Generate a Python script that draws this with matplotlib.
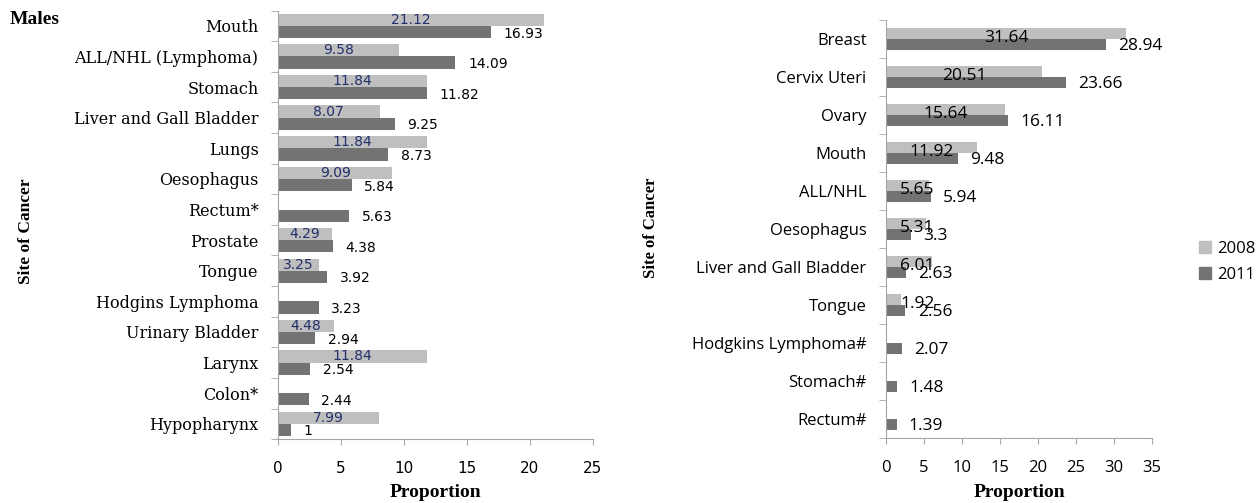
import numpy as np
import matplotlib
matplotlib.use("Agg")
import matplotlib.pyplot as plt
from matplotlib.patches import Patch

# males
m_sites = ["Mouth", "ALL/NHL (Lymphoma)", "Stomach", "Liver and Gall Bladder", "Lungs",
           "Oesophagus", "Rectum*", "Prostate", "Tongue", "Hodgins Lymphoma",
           "Urinary Bladder", "Larynx", "Colon*", "Hypopharynx"]
m_2008 = [21.12, 9.58, 11.84, 8.07, 11.84, 9.09, np.nan, 4.29, 3.25, np.nan, 4.48, 11.84, np.nan, 7.99]
m_2011 = [16.93, 14.09, 11.82, 9.25, 8.73, 5.84, 5.63, 4.38, 3.92, 3.23, 2.94, 2.54, 2.44, 1]

# females
f_sites = ["Breast", "Cervix Uteri", "Ovary", "Mouth", "ALL/NHL", "Oesophagus",
           "Liver and Gall Bladder", "Tongue", "Hodgkins Lymphoma#", "Stomach#", "Rectum#"]
f_2008 = [31.64, 20.51, 15.64, 11.92, 5.65, 5.31, 6.01, 1.92, np.nan, np.nan, np.nan]
f_2011 = [28.94, 23.66, 16.11, 9.48, 5.94, 3.3, 2.63, 2.56, 2.07, 1.48, 1.39]

light = "#BFBFBF"
dark = "#737373"
navy = "#23306B"
spine_c = "#A6A6A6"

fig = plt.figure(figsize=(12.6, 5.03), dpi=100)


def style_axes(ax, n):
    for s in ["top", "right"]:
        ax.spines[s].set_visible(False)
    ax.spines["left"].set_color(spine_c)
    ax.spines["bottom"].set_color(spine_c)
    ax.set_ylim(n - 0.5, -0.5)
    ax.set_yticks(np.arange(n))
    ax.tick_params(axis="y", length=0, pad=14)
    ax.set_yticks(np.arange(n + 1) - 0.5, minor=True)
    ax.tick_params(axis="y", which="minor", length=5, color=spine_c)
    ax.tick_params(axis="x", length=4, color=spine_c, pad=12)


# ---- males ----
ax1 = fig.add_axes([0.2206, 0.127, 0.25, 0.852])
y = np.arange(len(m_sites))
h = 0.4
ax1.barh(y - h / 2, m_2008, height=h, color=light)
ax1.barh(y + h / 2, m_2011, height=h, color=dark)
style_axes(ax1, len(m_sites))
ax1.set_xlim(0, 25)
ax1.set_xticks(np.arange(0, 26, 5))
ax1.set_yticklabels(m_sites, family="DejaVu Serif", fontsize=11.5)
for lab in ax1.get_xticklabels():
    lab.set_family("DejaVu Sans")
    lab.set_fontsize(11)
for i, (a, b) in enumerate(zip(m_2008, m_2011)):
    if not np.isnan(a):
        ax1.text(a / 2, i - h / 2, f"{a:g}", ha="center", va="center",
                 color=navy, fontsize=10, family="DejaVu Sans")
    ax1.text(b + 1.0, i + h / 2 + 0.05, f"{b:g}", ha="left", va="center",
             color="black", fontsize=10, family="DejaVu Sans")
ax1.set_xlabel("Proportion", family="Liberation Serif", fontweight="bold", fontsize=14)
ax1.xaxis.set_label_coords(0.5, -0.105)
fig.text(26 / 1260, 1 - 231 / 503, "Site of Cancer", rotation=90, ha="center", va="center",
         family="Liberation Serif", fontweight="bold", fontsize=12.5)
fig.text(10 / 1260, 1 - 20 / 503, "Males", ha="left", va="center",
         family="Liberation Serif", fontweight="bold", fontsize=14)

# ---- females ----
ax2 = fig.add_axes([0.7032, 0.129, 0.2111, 0.831])
y = np.arange(len(f_sites))
h = 0.28
ax2.barh(y - h / 2, f_2008, height=h, color=light, label="2008")
ax2.barh(y + h / 2, f_2011, height=h, color=dark, label="2011")
style_axes(ax2, len(f_sites))
ax2.set_xlim(0, 35)
ax2.set_xticks(np.arange(0, 36, 5))
ax2.set_yticklabels(f_sites, family="Open Sans", fontsize=12)
for lab in ax2.get_xticklabels():
    lab.set_family("Open Sans")
    lab.set_fontsize(12)
for i, (a, b) in enumerate(zip(f_2008, f_2011)):
    if not np.isnan(a):
        ax2.text(max(a / 2, 4.1), i - h / 2 + 0.1, f"{a:g}", ha="center", va="center",
                 color="black", fontsize=12.5, family="Open Sans")
    ax2.text(b + 1.6, i + h / 2 + 0.05, f"{b:g}", ha="left", va="center",
             color="black", fontsize=12.5, family="Open Sans")
ax2.set_xlabel("Proportion", family="Liberation Serif", fontweight="bold", fontsize=14)
ax2.xaxis.set_label_coords(0.5, -0.11)
fig.text(651 / 1260, 1 - 228 / 503, "Site of Cancer", rotation=90, ha="center", va="center",
         family="Liberation Serif", fontweight="bold", fontsize=12)

handles = [Patch(color=light), Patch(color=dark)]
fig.legend(handles, ["2008", "2011"], loc="center left", bbox_to_anchor=(1184 / 1260, 1 - 262 / 503),
           frameon=False, prop={"family": "Open Sans", "size": 12}, handlelength=0.7, handleheight=0.7,
           handletextpad=0.4, labelspacing=0.6)

fig.savefig("out.png", dpi=100)
